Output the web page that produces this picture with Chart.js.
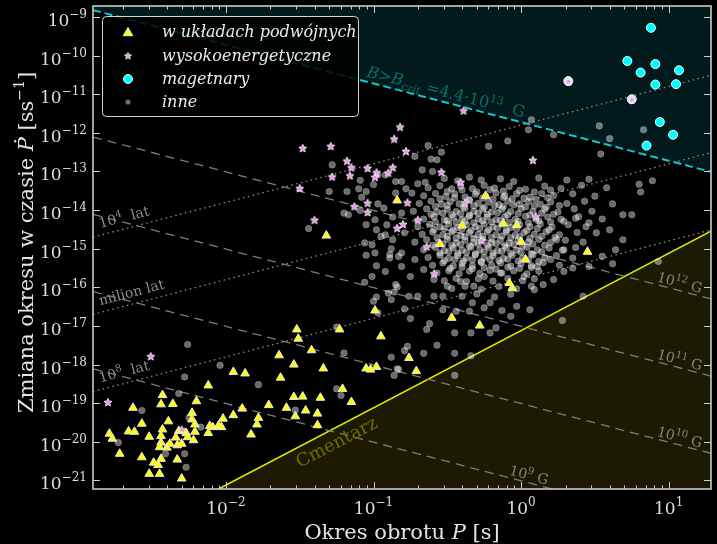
<!DOCTYPE html>
<html>
<head>
<meta charset="utf-8">
<script src="https://cdn.jsdelivr.net/npm/chart.js@4.4.0/dist/chart.umd.min.js"></script>
<style>
  html, body { margin: 0; padding: 0; background: #000; }
  canvas { display: block; }
</style>
</head>
<body>
<canvas id="ppdotChart" width="717" height="544"></canvas>
<script>
// values are [log10 P (s), log10 Pdot (s/s)]
const binaryPulsars = [
  [-2.79,-19.79],[-2.77,-19.92],[-2.72,-20.31],[-2.66,-19.73],[-2.62,-19.74],[-2.63,-19.12],[-2.57,-19.53],[-2.57,-20.40],
  [-2.52,-19.87],[-2.52,-20.83],[-2.49,-20.54],[-2.46,-20.60],[-2.45,-20.83],[-2.44,-19.03],[-2.43,-18.79],[-2.43,-19.68],
  [-2.44,-19.85],[-2.44,-20.02],[-2.45,-20.14],[-2.44,-20.44],[-2.40,-20.15],[-2.39,-19.47],[-2.38,-20.05],[-2.36,-19.02],
  [-2.34,-19.89],[-2.33,-20.09],[-2.33,-20.46],[-2.32,-19.72],[-2.30,-20.05],[-2.30,-20.95],[-2.27,-19.77],[-2.26,-19.88],
  [-2.23,-19.25],[-2.23,-19.42],[-2.22,-19.96],[-2.21,-19.55],[-2.21,-19.74],[-2.20,-18.95],[-2.12,-19.77],[-2.11,-19.59],
  [-2.12,-18.54],[-2.09,-19.62],[-2.05,-19.58],[-2.03,-19.62],[-2.02,-19.40],[-1.95,-18.19],[-1.95,-19.31],[-1.89,-19.14],
  [-1.87,-18.23],[-1.83,-19.81],[-1.79,-19.55],[-1.78,-19.38],[-1.71,-19.05],[-1.64,-17.76],[-1.63,-18.34],[-1.59,-19.12],
  [-1.54,-18.00],[-1.54,-18.84],[-1.48,-18.83],[-1.53,-19.34],[-1.46,-19.19],[-1.38,-19.27],[-1.38,-19.57],[-1.36,-18.86],
  [-1.34,-18.10],[-1.52,-17.09],[-1.51,-17.33],[-1.42,-17.63],[-1.23,-17.09],[-1.21,-18.63],[-1.15,-18.97],[-1.05,-18.10],
  [-1.02,-18.13],[-0.98,-18.06],[-0.99,-16.60],[-0.95,-17.27],[-0.76,-17.83],[-0.71,-18.17],[-0.84,-13.75],[-0.55,-14.88],
  [-0.40,-14.40],[-0.47,-16.79],[-0.28,-16.99],[-0.12,-14.35],[-0.03,-14.39],[0.00,-14.82],[0.03,-15.28],[-0.08,-15.89],
  [-0.06,-16.02],[0.45,-15.08],[-0.24,-13.63],[-1.32,-14.66]
];
const highEnergyPulsars = [
  [-2.51,-17.78],[-2.80,-18.97],[-2.30,-19.68],[-1.48,-12.39],[-1.29,-12.34],[-0.82,-11.84],[-0.86,-12.15],[-0.78,-12.47],
  [-1.18,-12.72],[-1.15,-12.89],[-1.16,-13.10],[-1.28,-13.13],[-1.04,-12.91],[-0.98,-13.02],[-0.99,-13.14],[-0.90,-13.03],
  [-0.87,-12.89],[-1.50,-13.43],[-1.13,-13.90],[-1.04,-13.81],[-1.04,-14.05],[-0.77,-13.80],[-1.40,-14.25],[-0.80,-14.36],
  [-0.84,-14.46],[-0.70,-14.25],[-0.54,-13.01],[-0.41,-13.27],[-0.38,-13.80],[-0.64,-14.94],[-0.59,-15.64],[-0.39,-11.42],
  [0.08,-12.70],[0.10,-14.16],[-0.27,-14.78],[0.32,-10.66],[0.75,-11.13]
];
const magnetars = [
  [0.88,-9.28],[0.72,-10.14],[0.91,-10.22],[0.81,-10.44],[1.07,-10.38],[0.91,-10.75],[1.05,-10.74],[0.94,-11.72],
  [1.03,-12.05],[0.85,-12.33],[0.32,-10.66],[0.75,-11.13]
];
const otherPulsars = [
  // scattered points
  [-2.26,-17.48],[-2.04,-18.02],[-2.28,-18.32],[-1.78,-18.52],[-2.32,-18.75],[-2.57,-19.19],[-2.25,-19.38],[-2.17,-19.62],
  [-2.73,-20.02],[-2.41,-20.31],[-2.28,-20.31],[-2.27,-20.66],[-1.25,-17.03],[-1.20,-17.70],[-1.25,-18.63],[-1.22,-18.80],
  [-1.53,-19.18],[-0.86,-18.28],[-0.85,-15.93],[-0.86,-16.12],[-0.97,-16.66],[-0.84,-18.11],
  [-1.28,-12.83],[-1.30,-13.52],[-1.18,-13.52],[-1.09,-13.23],[-1.10,-13.45],[-1.05,-13.52],[-1.00,-13.34],[-0.97,-13.09],
  [-0.92,-13.09],[-0.85,-13.26],[-0.81,-13.26],[-0.72,-12.61],[-0.63,-12.33],[-0.54,-12.50],[-0.61,-12.68],[-0.57,-12.70],
  [-0.67,-12.96],[-0.60,-13.00],[-0.65,-13.28],[-0.70,-13.32],[-0.78,-13.45],[-0.74,-13.56],[-0.85,-13.56],[-1.08,-13.67],
  [-0.97,-13.84],[-0.93,-13.95],[-1.20,-14.08],[-1.17,-14.12],[-1.09,-14.01],[-0.99,-14.25],[-1.05,-14.38],[-1.44,-14.48],
  [-0.98,-14.51],[-0.91,-14.38],[-0.87,-14.18],[-0.92,-14.64],[-0.87,-14.77],[-1.01,-14.90],[-1.05,-15.17],[-0.88,-15.00],
  [-0.83,-15.20],[-0.98,-15.44],[-0.89,-15.24],
  [0.07,-11.66],[0.05,-11.92],[0.53,-11.82],[0.60,-12.15],[0.83,-11.92],[0.54,-12.55],[0.89,-13.24],[0.80,-13.33],
  [0.81,-13.53],[-0.22,-12.35],[-0.09,-12.21],[0.22,-12.05],[0.32,-10.66],[0.75,-11.13],
  [0.28,-16.86],[-0.45,-17.18],[-0.66,-17.71],[-0.45,-17.71],[-0.34,-17.77],[-0.45,-18.28],[-0.57,-17.50],[-0.83,-18.13],
  [-0.88,-17.81],[-0.79,-17.64],[-0.77,-17.53],[-0.64,-17.09],[-0.75,-16.81],[-0.62,-16.94],[-0.79,-16.56],[-0.76,-16.23],
  [-0.70,-16.23],[-0.84,-15.99],[-0.90,-16.15],[-0.88,-16.32],[-1.00,-16.36],[-0.98,-16.25],[-1.06,-15.87],[-1.01,-15.72],
  [-0.92,-15.59],[-0.89,-15.15],[-0.99,-15.11],[-1.06,-14.85],[-0.95,-14.68],
  [0.62,-15.39],[0.93,-15.33],[0.42,-16.23],[0.06,-16.58],[-0.21,-16.40],[-0.25,-16.53],[-0.13,-16.60],[-0.03,-16.49],
  [-0.07,-16.75],[-0.21,-17.18],[-0.17,-17.05],[-0.34,-17.18],[-0.35,-16.62],[-0.44,-16.62],[-0.53,-16.58],[-0.59,-16.23],
  [-0.53,-16.23],[-0.33,-16.40],[0.09,-16.06],[0.15,-15.93],[0.22,-15.80],[0.29,-15.59],[0.35,-15.50],[0.46,-15.46],
  [0.55,-15.20],[0.64,-15.03],[0.69,-14.77],[0.75,-14.12],[0.69,-14.12],[0.60,-14.51],[0.51,-14.59],[0.46,-14.33],
  [0.37,-14.21],[0.24,-14.77],[0.29,-15.03],[0.20,-15.28],[0.11,-15.46],[0.02,-15.72],[-0.14,-15.63],[-0.25,-15.72],
  [-0.32,-15.97],[-0.41,-15.85],[-0.50,-15.97],[-0.59,-15.80],[-0.66,-15.54],[-0.75,-15.72],[-0.81,-15.46],[-0.72,-15.28],
  [-0.81,-15.11],[-0.79,-14.59],[-0.81,-14.08],
  // dense core
  [-0.52,-13.18],[-0.43,-13.24],[-0.35,-13.15],[-0.27,-13.22],[-0.14,-13.19],[-0.05,-13.26],[0.12,-13.17],[0.31,-13.22],[0.46,-13.20],
  [-0.63,-13.42],[-0.55,-13.37],[-0.47,-13.45],[-0.41,-13.38],[-0.33,-13.44],[-0.25,-13.36],[-0.18,-13.43],[-0.08,-13.39],
  [0.03,-13.46],[0.16,-13.38],[0.27,-13.44],[0.41,-13.36],[0.58,-13.42],
  [-0.66,-13.63],[-0.58,-13.57],[-0.51,-13.65],[-0.45,-13.58],[-0.38,-13.66],[-0.31,-13.59],[-0.24,-13.64],[-0.17,-13.56],
  [-0.11,-13.63],[-0.03,-13.58],[0.06,-13.66],[0.14,-13.57],[0.22,-13.62],[0.35,-13.58],[0.50,-13.64],
  [-0.69,-13.83],[-0.61,-13.77],[-0.54,-13.85],[-0.48,-13.78],[-0.42,-13.84],[-0.35,-13.76],[-0.29,-13.83],[-0.22,-13.79],
  [-0.15,-13.86],[-0.09,-13.77],[-0.01,-13.84],[0.05,-13.78],[0.13,-13.85],[0.20,-13.79],[0.31,-13.83],[0.43,-13.77],[0.62,-13.84],
  [-0.73,-14.03],[-0.64,-13.97],[-0.57,-14.05],[-0.50,-13.98],[-0.44,-14.04],[-0.38,-13.96],[-0.32,-14.03],[-0.26,-13.97],
  [-0.20,-14.05],[-0.13,-13.98],[-0.07,-14.04],[0.00,-13.96],[0.08,-14.03],[0.16,-13.98],[0.25,-14.05],[0.36,-13.97],[0.48,-14.03],
  [-0.66,-14.23],[-0.59,-14.17],[-0.52,-14.25],[-0.46,-14.18],[-0.40,-14.24],[-0.35,-14.16],[-0.29,-14.23],[-0.23,-14.18],
  [-0.17,-14.25],[-0.11,-14.17],[-0.04,-14.24],[0.03,-14.16],[0.10,-14.23],[0.18,-14.18],[0.27,-14.24],[0.39,-14.17],[0.55,-14.23],
  [-0.70,-14.43],[-0.62,-14.37],[-0.55,-14.44],[-0.49,-14.36],[-0.43,-14.45],[-0.37,-14.38],[-0.31,-14.43],[-0.25,-14.36],
  [-0.19,-14.44],[-0.13,-14.37],[-0.07,-14.45],[-0.01,-14.38],[0.06,-14.43],[0.13,-14.36],[0.21,-14.44],[0.32,-14.38],[0.44,-14.43],
  [-0.67,-14.63],[-0.60,-14.57],[-0.53,-14.64],[-0.47,-14.56],[-0.41,-14.65],[-0.35,-14.58],[-0.29,-14.63],[-0.23,-14.56],
  [-0.17,-14.64],[-0.10,-14.57],[-0.04,-14.65],[0.02,-14.58],[0.09,-14.63],[0.17,-14.56],[0.26,-14.64],[0.38,-14.58],
  [-0.72,-14.83],[-0.64,-14.77],[-0.56,-14.84],[-0.50,-14.76],[-0.44,-14.85],[-0.38,-14.78],[-0.32,-14.83],[-0.26,-14.76],
  [-0.20,-14.84],[-0.14,-14.77],[-0.08,-14.85],[-0.02,-14.78],[0.05,-14.83],[0.12,-14.76],[0.20,-14.84],[0.30,-14.78],[0.42,-14.83],
  [-0.66,-15.03],[-0.58,-14.97],[-0.52,-15.05],[-0.46,-14.98],[-0.40,-15.04],[-0.34,-14.96],[-0.28,-15.03],[-0.22,-14.97],
  [-0.16,-15.05],[-0.10,-14.98],[-0.03,-15.04],[0.04,-14.96],[0.11,-15.03],[0.19,-14.98],[0.28,-15.04],[0.37,-14.97],
  [-0.63,-15.23],[-0.55,-15.17],[-0.49,-15.25],[-0.43,-15.18],[-0.37,-15.24],[-0.31,-15.16],[-0.25,-15.23],[-0.19,-15.18],
  [-0.12,-15.25],[-0.06,-15.17],[0.01,-15.24],[0.08,-15.16],[0.16,-15.23],[0.24,-15.18],[0.35,-15.24],
  [-0.60,-15.43],[-0.53,-15.37],[-0.46,-15.45],[-0.40,-15.38],[-0.33,-15.44],[-0.27,-15.36],[-0.20,-15.43],[-0.14,-15.37],
  [-0.07,-15.45],[0.00,-15.38],[0.07,-15.44],[0.15,-15.36],[0.26,-15.43],
  [-0.57,-15.63],[-0.49,-15.57],[-0.42,-15.65],[-0.35,-15.58],[-0.28,-15.64],[-0.21,-15.56],[-0.13,-15.63],[-0.05,-15.57],
  [0.04,-15.65],[0.12,-15.58],
  [-0.52,-15.83],[-0.44,-15.77],[-0.37,-15.85],[-0.29,-15.78],[-0.19,-15.84],[-0.09,-15.77],[0.01,-15.83],[0.09,-15.78],
  [-0.47,-16.03],[-0.38,-15.97],[-0.27,-16.05],[-0.15,-15.98],[-0.03,-16.04],[0.07,-15.97],
  [-0.40,-16.23],[-0.30,-16.17],[-0.18,-16.25],[-0.07,-16.18],
  [-0.50,-13.52],[-0.40,-13.48],[-0.30,-13.53],[-0.21,-13.47],[-0.12,-13.51],[-0.01,-13.49],[0.09,-13.53],[0.20,-13.48],
  [-0.55,-13.71],[-0.45,-13.68],[-0.35,-13.73],[-0.26,-13.69],[-0.19,-13.72],[-0.12,-13.67],[-0.06,-13.71],[0.02,-13.69],[0.10,-13.72],[0.18,-13.68],
  [-0.58,-13.91],[-0.50,-13.88],[-0.39,-13.92],[-0.32,-13.89],[-0.25,-13.93],[-0.18,-13.88],[-0.12,-13.91],[-0.05,-13.87],[0.03,-13.92],[0.09,-13.89],[0.17,-13.93],[0.26,-13.88],
  [-0.61,-14.11],[-0.53,-14.08],[-0.47,-14.12],[-0.41,-14.09],[-0.35,-14.13],[-0.29,-14.08],[-0.23,-14.11],[-0.16,-14.07],[-0.09,-14.12],[-0.02,-14.09],[0.06,-14.13],[0.14,-14.08],[0.22,-14.11],
  [-0.58,-14.31],[-0.50,-14.28],[-0.44,-14.32],[-0.38,-14.29],[-0.32,-14.33],[-0.26,-14.28],[-0.20,-14.31],[-0.14,-14.27],[-0.08,-14.32],[-0.02,-14.29],[0.05,-14.33],[0.12,-14.28],[0.20,-14.31],[0.29,-14.29],
  [-0.59,-14.51],[-0.52,-14.48],[-0.46,-14.52],[-0.40,-14.49],[-0.34,-14.53],[-0.28,-14.48],[-0.22,-14.51],[-0.16,-14.47],[-0.10,-14.52],[-0.03,-14.49],[0.04,-14.53],[0.11,-14.48],[0.19,-14.51],
  [-0.57,-14.71],[-0.50,-14.68],[-0.44,-14.72],[-0.38,-14.69],[-0.32,-14.73],[-0.26,-14.68],[-0.20,-14.71],[-0.13,-14.67],[-0.07,-14.72],[-0.01,-14.69],[0.06,-14.73],[0.14,-14.68],[0.23,-14.71],
  [-0.60,-14.91],[-0.53,-14.88],[-0.47,-14.92],[-0.41,-14.89],[-0.35,-14.93],[-0.29,-14.88],[-0.23,-14.91],[-0.17,-14.87],[-0.11,-14.92],[-0.05,-14.89],[0.01,-14.93],[0.08,-14.88],[0.16,-14.91],
  [-0.55,-15.11],[-0.49,-15.08],[-0.43,-15.12],[-0.37,-15.09],[-0.31,-15.13],[-0.25,-15.08],[-0.19,-15.11],[-0.13,-15.07],[-0.07,-15.12],[0.00,-15.09],[0.07,-15.13],[0.14,-15.08],
  [-0.52,-15.31],[-0.45,-15.28],[-0.39,-15.32],[-0.33,-15.29],[-0.27,-15.33],[-0.21,-15.28],[-0.15,-15.31],[-0.09,-15.27],[-0.02,-15.32],[0.05,-15.29],[0.12,-15.33],
  [-0.48,-15.51],[-0.40,-15.48],[-0.33,-15.52],[-0.25,-15.49],[-0.17,-15.53],[-0.09,-15.48],[-0.01,-15.51],[0.07,-15.49]
];

const yDecades = [-21, -20, -19, -18, -17, -16, -15, -14, -13, -12, -11, -10, -9];
const xDecades = [-2, -1, 0, 1];
const fieldLinesLogB = [12, 11, 10, 9];   // dashed lines, B in G
const ageLinesLogYr = [4, 6, 8];         // dotted lines, characteristic age in years
const bCritLogB = Math.log10(4.4e13);
const deathLineLogC = -17.12;            // log Pdot = 2 log P + c
const legendLabels = ['w układach podwójnych', 'wysokoenergetyczne', 'magetnary', 'inne'];

const X_MIN = 10 ** -2.901, X_MAX = 10 ** 1.287;
const Y_MIN = 10 ** -21.214, Y_MAX = 10 ** -8.716;
const LOG_K = 2 * Math.log10(3.2e19);    // Pdot*P = (B/3.2e19)^2
const LOG_YR2 = Math.log10(2 * 3.156e7); // Pdot = P / (2 tau)

const SERIF = '"DejaVu Serif", serif';
const font = (size, style) => `${style || ''} ${size}px ${SERIF}`;

const toPts = (arr) => arr.map(([lp, lpd]) => ({ x: 10 ** lp, y: 10 ** lpd }));
const lineFrom = (fn) => [X_MIN, X_MAX].map((p) => ({ x: p, y: 10 ** fn(Math.log10(p)) }));

function makeStar(size) {
  const c = document.createElement('canvas');
  c.width = c.height = size;
  const g = c.getContext('2d');
  const cx = size / 2, r = size / 2 - 0.8, ri = r * 0.45;
  g.beginPath();
  for (let i = 0; i < 10; i++) {
    const a = -Math.PI / 2 + (i * Math.PI) / 5;
    const rr = i % 2 ? ri : r;
    g.lineTo(cx + rr * Math.cos(a), cx + 0.6 + rr * Math.sin(a));
  }
  g.closePath();
  g.fillStyle = '#f28cf2';
  g.fill();
  g.strokeStyle = '#f4f4f4';
  g.lineWidth = 0.9;
  g.stroke();
  return c;
}
const starImg = makeStar(10);
const starLegend = makeStar(9);

function runsWidth(ctx, runs) {
  let w = 0;
  for (const r of runs) { ctx.font = r.f; w += ctx.measureText(r.t).width; }
  return w;
}
function drawRuns(ctx, runs, x, y) {
  for (const r of runs) {
    ctx.font = r.f;
    ctx.fillText(r.t, x, y + (r.dy || 0));
    x += ctx.measureText(r.t).width;
  }
}
const powRuns = (e, big, small, rise) => [
  { t: '10', f: font(big) },
  { t: (e < 0 ? '\u2212' : '') + Math.abs(e), f: font(small), dy: -rise }
];

const decorPlugin = {
  id: 'decor',
  afterDatasetsDraw(chart) {
    const { ctx, chartArea: a, scales: { x, y } } = chart;
    const px = (lp) => x.getPixelForValue(10 ** lp);
    const py = (lpd) => y.getPixelForValue(10 ** lpd);
    const angleFor = (k) => Math.atan2(py(k) - py(0), px(1) - px(0));
    ctx.save();
    ctx.textBaseline = 'alphabetic';
    ctx.textAlign = 'left';

    // labels along the guide lines
    ctx.save();
    ctx.beginPath();
    ctx.rect(a.left, a.top, a.right - a.left, a.bottom - a.top);
    ctx.clip();
    const label = (runs, lp, lpd, k, off, color) => {
      const ang = angleFor(k);
      ctx.save();
      ctx.translate(px(lp) + off * Math.sin(ang), py(lpd) - off * Math.cos(ang));
      ctx.rotate(ang);
      ctx.fillStyle = color;
      drawRuns(ctx, runs, 0, 0);
      ctx.restore();
    };
    ageLinesLogYr.forEach((t) => {
      const lp = -2.84;
      const runs = t === 6
        ? [{ t: 'milion lat', f: font(14) }]
        : [{ t: '10', f: font(14) }, { t: String(t), f: font(10), dy: -6 }, { t: '  lat', f: font(14) }];
      label(runs, lp, lp - LOG_YR2 - t, 1, 7, '#8c8c8c');
    });
    fieldLinesLogB.forEach((b) => {
      const lp = b === 9 ? -0.09 : 0.91;
      const runs = [{ t: '10', f: font(14) }, { t: String(b), f: font(10), dy: -6 }, { t: ' G', f: font(14) }];
      label(runs, lp, 2 * b - LOG_K - lp, -1, 3, '#858585');
    });
    {
      const lp = -1.06;
      const runs = [
        { t: 'B', f: font(16, 'italic') }, { t: '>', f: font(16) }, { t: 'B', f: font(16, 'italic') },
        { t: 'crit', f: font(11, 'italic'), dy: 4 }, { t: ' =4.4\u00b710', f: font(16) },
        { t: '13', f: font(11), dy: -7 }, { t: '  G', f: font(16) }
      ];
      label(runs, lp, 2 * bCritLogB - LOG_K - lp, -1, 5, '#0b6c6c');
    }
    {
      const lp = -1.56;
      label([{ t: 'Cmentarz', f: font(18) }], lp, 2 * lp + deathLineLogC, 2, -19, '#716b00');
    }
    ctx.restore();

    // spines and ticks
    ctx.strokeStyle = '#cfcfcf';
    ctx.lineWidth = 1;
    const seg = (x1, y1, x2, y2) => { ctx.beginPath(); ctx.moveTo(x1, y1); ctx.lineTo(x2, y2); ctx.stroke(); };
    for (let e = -3; e <= 1; e++) {
      for (let m = 1; m < 10; m++) {
        const v = m * 10 ** e;
        if (v < x.min || v > x.max) continue;
        const X = Math.round(x.getPixelForValue(v)) + 0.5;
        const len = m === 1 ? 7 : 3.5;
        seg(X, a.bottom, X, a.bottom - len);
        seg(X, a.top, X, a.top + len);
      }
    }
    for (const e of yDecades) {
      const Y = Math.round(py(e)) + 0.5;
      seg(a.left, Y, a.left + 7, Y);
      seg(a.right, Y, a.right - 7, Y);
    }
    ctx.lineWidth = 1.6;
    ctx.strokeStyle = '#c8c8c8';
    ctx.strokeRect(a.left, a.top, a.right - a.left, a.bottom - a.top);

    // tick labels
    ctx.fillStyle = '#dedede';
    for (const e of yDecades) {
      const runs = powRuns(e, 17, 12, 8);
      drawRuns(ctx, runs, a.left - 6 - runsWidth(ctx, runs), py(e) + 9);
    }
    for (const e of xDecades) {
      const runs = powRuns(e, 17, 12, 8);
      drawRuns(ctx, runs, px(e) - runsWidth(ctx, runs) / 2, a.bottom + 25);
    }

    // axis titles
    ctx.fillStyle = '#e2e2e2';
    const xt = [{ t: 'Okres obrotu ', f: font(21) }, { t: 'P', f: font(21, 'italic') }, { t: ' [s]', f: font(21) }];
    drawRuns(ctx, xt, (a.left + a.right) / 2 - runsWidth(ctx, xt) / 2, 539);
    const yt = [
      { t: 'Zmiana okresu w czasie ', f: font(21) }, { t: '\u1e56', f: font(21, 'italic') },
      { t: ' [ss', f: font(21) }, { t: '\u22121', f: font(14), dy: -9 }, { t: ']', f: font(21) }
    ];
    ctx.save();
    ctx.translate(33, (a.top + a.bottom) / 2 - 5);
    ctx.rotate(-Math.PI / 2);
    drawRuns(ctx, yt, -runsWidth(ctx, yt) / 2, 0);
    ctx.restore();

    // legend
    ctx.beginPath();
    ctx.roundRect(102.5, 16.5, 256, 100, 4);
    ctx.fillStyle = 'rgba(0,0,0,0.85)';
    ctx.fill();
    ctx.lineWidth = 1;
    ctx.strokeStyle = '#d4d4d4';
    ctx.stroke();
    const rows = [32, 55.5, 79, 102];
    const mx = 128;
    ctx.beginPath();
    for (let i = 0; i < 3; i++) {
      const ang = (i * 2 * Math.PI) / 3;
      ctx.lineTo(mx + Math.sin(ang) * 5.5, rows[0] + 1 - Math.cos(ang) * 5.5);
    }
    ctx.closePath();
    ctx.fillStyle = '#ffff00';
    ctx.fill();
    ctx.strokeStyle = '#e8e8e8';
    ctx.stroke();
    ctx.drawImage(starLegend, mx - 4.5, rows[1] - 4.5);
    ctx.beginPath();
    ctx.arc(mx, rows[2], 4.5, 0, Math.PI * 2);
    ctx.fillStyle = '#00ffff';
    ctx.fill();
    ctx.strokeStyle = '#e0ffff';
    ctx.stroke();
    ctx.beginPath();
    ctx.arc(mx, rows[3], 2.6, 0, Math.PI * 2);
    ctx.fillStyle = '#6e6e6e';
    ctx.fill();
    ctx.fillStyle = '#ececec';
    legendLabels.forEach((t, i) => {
      ctx.font = font(16, 'italic');
      ctx.fillText(t, 162, rows[i] + 5);
    });
    ctx.restore();
  }
};

const guideDatasets = [
  {
    type: 'line', data: lineFrom((lp) => 2 * lp + deathLineLogC),
    borderColor: '#e6e600', borderWidth: 1.6, fill: 'start', backgroundColor: '#1d1a03',
    pointRadius: 0, order: 30
  },
  {
    type: 'line', data: lineFrom((lp) => 2 * bCritLogB - LOG_K - lp),
    borderColor: '#12c6cf', borderWidth: 2, borderDash: [8, 4], fill: 'end', backgroundColor: '#021a1b',
    pointRadius: 0, order: 29
  },
  ...fieldLinesLogB.map((b) => ({
    type: 'line', data: lineFrom((lp) => 2 * b - LOG_K - lp),
    borderColor: '#7c7c7c', borderWidth: 1.3, borderDash: [9, 6], fill: false, pointRadius: 0, order: 25
  })),
  ...ageLinesLogYr.map((t) => ({
    type: 'line', data: lineFrom((lp) => lp - LOG_YR2 - t),
    borderColor: '#8e8e8e', borderWidth: 1.3, borderDash: [1.5, 3.5], fill: false, pointRadius: 0, order: 24
  }))
];

new Chart(document.getElementById('ppdotChart').getContext('2d'), {
  type: 'scatter',
  data: {
    datasets: [
      ...guideDatasets,
      {
        label: 'inne', data: toPts(otherPulsars),
        pointRadius: 3.3, backgroundColor: 'rgba(255,255,255,0.42)',
        borderColor: 'rgba(255,255,255,0.25)', borderWidth: 0.8, order: 10
      },
      {
        label: 'w układach podwójnych', data: toPts(binaryPulsars),
        pointStyle: 'triangle', pointRadius: 5, backgroundColor: '#ffff00',
        borderColor: '#e6e6e6', borderWidth: 1, order: 4
      },
      {
        label: 'magetnary', data: toPts(magnetars),
        pointRadius: 4.5,
        backgroundColor: (c) => (c.dataIndex >= 10 ? '#c4ecee' : '#00ffff'),
        borderColor: '#e6ffff', borderWidth: 1, order: 3
      },
      {
        label: 'wysokoenergetyczne', data: toPts(highEnergyPulsars),
        pointStyle: starImg, pointRadius: 5, order: 2
      }
    ]
  },
  options: {
    responsive: false,
    animation: false,
    events: [],
    layout: { padding: { left: 93, right: 1, top: 6, bottom: 55 } },
    scales: {
      x: { type: 'logarithmic', min: X_MIN, max: X_MAX, display: false },
      y: { type: 'logarithmic', min: Y_MIN, max: Y_MAX, display: false }
    },
    plugins: {
      legend: { display: false },
      tooltip: { enabled: false }
    }
  },
  plugins: [decorPlugin]
});
</script>
</body>
</html>
